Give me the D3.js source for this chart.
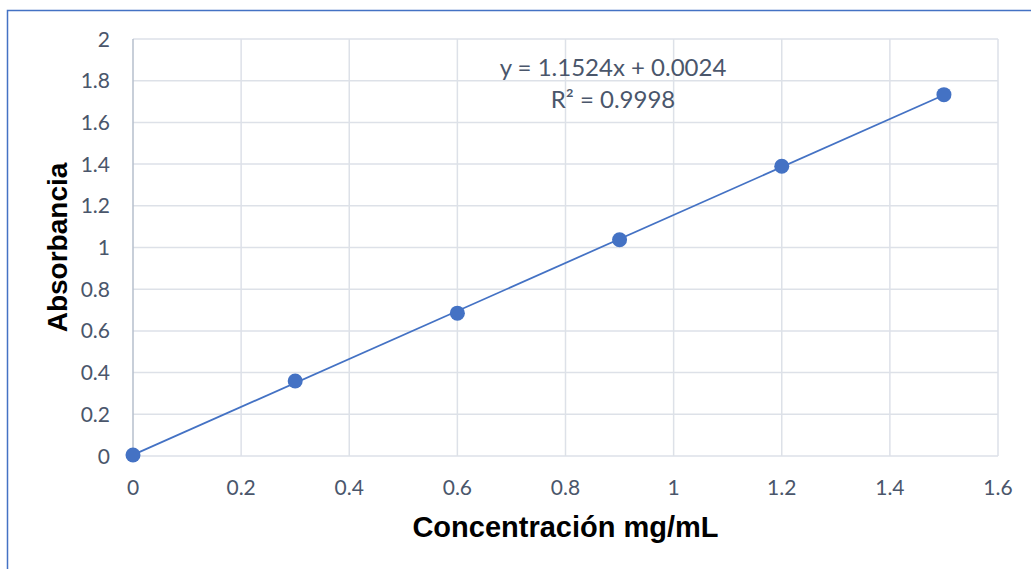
<!DOCTYPE html>
<html>
<head>
<meta charset="utf-8">
<script src="https://cdn.jsdelivr.net/npm/d3@7"></script>
<style>
  body { margin: 0; background: #fff; }
  svg { display: block; }
  .tick-label { font-family: Lato, "Open Sans", sans-serif; font-size: 21px; fill: #4a566b; }
  .axis-title { font-family: "Liberation Sans", Arial, sans-serif; font-weight: bold; font-size: 28px; fill: #000; }
  .eq { font-family: Lato, "Open Sans", sans-serif; font-size: 24px; fill: #4a566b; }
</style>
</head>
<body>
<div id="chart"></div>
<script>
let width = 1031
  , height = 569
  , marginLeft = 133
  , marginRight = 33
  , marginTop = 39
  , marginBottom = 113;

// data
let concentracion = [0, 0.3, 0.6, 0.9, 1.2, 1.5];
let absorbancia = [0.005, 0.36, 0.685, 1.037, 1.39, 1.733];
let xTicks = [0, 0.2, 0.4, 0.6, 0.8, 1, 1.2, 1.4, 1.6];
let yTicks = [0, 0.2, 0.4, 0.6, 0.8, 1, 1.2, 1.4, 1.6, 1.8, 2];
let eqLines = ['y = 1.1524x + 0.0024', 'R² = 0.9998'];

let blue = '#4472c4';

let x = d3.scaleLinear().domain([0, 1.6]).range([marginLeft, width - marginRight]);
let y = d3.scaleLinear().domain([0, 2]).range([height - marginBottom, marginTop]);

let svg = d3.select('#chart').append('svg').attr('width', width).attr('height', height);

// chart frame (only left/top visible in the crop)
svg.append('rect')
  .attr('x', 7.5).attr('y', 10.5)
  .attr('width', width + 20).attr('height', height + 20)
  .attr('fill', 'none').attr('stroke', blue).attr('stroke-width', 1.5);

// grid
svg.append('g').selectAll('line.h').data(yTicks).enter()
  .append('line')
  .attr('x1', x(0)).attr('x2', x(1.6))
  .attr('y1', d => y(d)).attr('y2', d => y(d))
  .attr('stroke', '#dde1e8').attr('stroke-width', 1.5);

svg.append('g').selectAll('line.v').data(xTicks).enter()
  .append('line')
  .attr('x1', d => x(d)).attr('x2', d => x(d))
  .attr('y1', y(0)).attr('y2', y(2))
  .attr('stroke', d => d === 0 ? '#b6bfcd' : '#dde1e8').attr('stroke-width', 1.5);

// tick labels
svg.append('g').selectAll('text').data(yTicks).enter()
  .append('text')
  .attr('class', 'tick-label')
  .attr('x', marginLeft - 23)
  .attr('y', d => y(d))
  .attr('dy', '0.36em')
  .attr('text-anchor', 'end')
  .text(d => d3.format('~g')(d));

svg.append('g').selectAll('text').data(xTicks).enter()
  .append('text')
  .attr('class', 'tick-label')
  .attr('x', d => x(d))
  .attr('y', y(0) + 39)
  .attr('text-anchor', 'middle')
  .text(d => d3.format('~g')(d));

// linear trend (least squares on the points)
let mx = d3.mean(concentracion)
  , my = d3.mean(absorbancia);
let sxy = d3.sum(concentracion, (v, i) => (v - mx) * (absorbancia[i] - my));
let sxx = d3.sum(concentracion, v => (v - mx) * (v - mx));
let slope = sxy / sxx, icpt = my - slope * mx;

let xExt = d3.extent(concentracion);
svg.append('path')
  .datum(xExt)
  .attr('d', d3.line().x(d => x(d)).y(d => y(slope * d + icpt)))
  .attr('fill', 'none').attr('stroke', blue).attr('stroke-width', 1.75);

// markers
svg.append('g').selectAll('circle').data(concentracion).enter()
  .append('circle')
  .attr('cx', d => x(d))
  .attr('cy', (d, i) => y(absorbancia[i]))
  .attr('r', 7.5)
  .attr('fill', blue);

// equation label
svg.append('g').selectAll('text').data(eqLines).enter()
  .append('text')
  .attr('class', 'eq')
  .attr('x', 613)
  .attr('y', (d, i) => 76 + i * 32)
  .attr('text-anchor', 'middle')
  .text(d => d);

// axis titles
svg.append('text')
  .attr('class', 'axis-title')
  .style('font-size', '29px')
  .attr('x', (x(0) + x(1.6)) / 2)
  .attr('y', 537)
  .attr('text-anchor', 'middle')
  .text('Concentración mg/mL');

svg.append('text')
  .attr('class', 'axis-title')
  .attr('transform', 'translate(67,' + y(1) + ') rotate(-90)')
  .attr('text-anchor', 'middle')
  .text('Absorbancia');
</script>
</body>
</html>
